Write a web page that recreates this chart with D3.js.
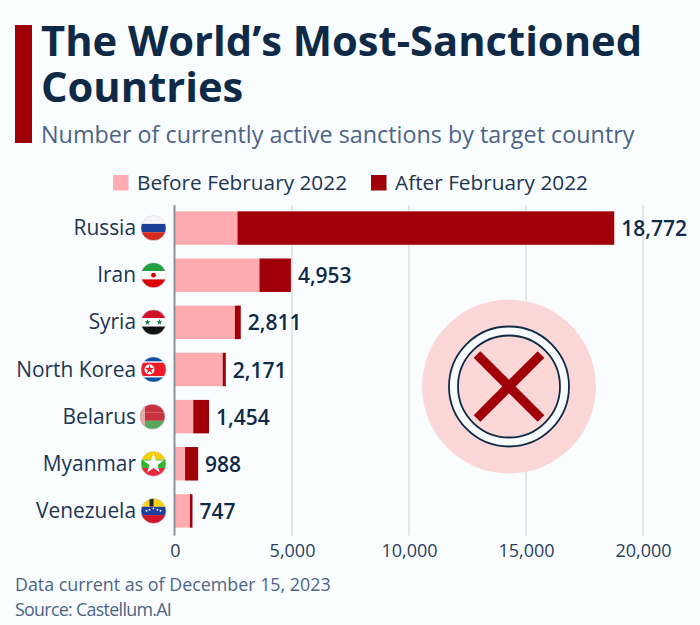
<!DOCTYPE html>
<html>
<head>
<meta charset="utf-8">
<script src="https://cdnjs.cloudflare.com/ajax/libs/d3/7.8.5/d3.min.js"></script>
<style>
    html, body { margin: 0; padding: 0; background: #f9fdff; }
    svg { display: block; font-family: "Open Sans", sans-serif; }
</style>
</head>
<body>
<div id="chart"></div>
<script>
    // values, total is the printed label
    let data = [
        {country: 'Russia', before: 2670, total: 18772, flagX: 153.5, stripes: ['#f6f6f6', '#1c3f94', '#d52b1e']},
        {country: 'Iran', before: 3610, total: 4953, flagX: 153.5, stripes: ['#239f40', '#ffffff', '#da0000']},
        {country: 'Syria', before: 2560, total: 2811, flagX: 153.5, stripes: ['#ce1126', '#ffffff', '#111111']},
        {country: 'North Korea', before: 2040, total: 2171, flagX: 153.5, stripes: ['#024fa2', '#ffffff', '#ed1c27', '#ffffff', '#024fa2'], weights: [2, 0.5, 6, 0.5, 2]},
        {country: 'Belarus', before: 780, total: 1454, flagX: 152.5, stripes: ['#c8313e', '#c8313e', '#5aa65f']},
        {country: 'Myanmar', before: 430, total: 988, flagX: 153.5, stripes: ['#fecb00', '#34b233', '#ea2839']},
        {country: 'Venezuela', before: 640, total: 747, flagX: 153.5, stripes: ['#fcd116', '#1f3f9a', '#cf142b']}
    ];
    data.forEach((d) => d.after = d.total - d.before);

    let width = 700, height = 625;
    let navy = '#0f2a47';
    let labelColor = '#1d3552';
    let colors = {before: '#ffabaf', after: '#a00008'};

    let svg = d3.select('#chart').append('svg')
        .attr('width', width)
        .attr('height', height);

    // header
    svg.append('rect')
        .attr('x', 15).attr('y', 25)
        .attr('width', 17).attr('height', 118)
        .attr('fill', '#a00008');

    svg.selectAll('.title')
        .data(['The World’s Most-Sanctioned', 'Countries'])
        .enter().append('text')
        .attr('class', 'title')
        .attr('x', 41)
        .attr('y', (d, i) => 56 + i * 46)
        .attr('font-size', 41.7)
        .attr('font-weight', 700)
        .attr('fill', navy)
        .text((d) => d);

    svg.append('text')
        .attr('x', 41).attr('y', 143)
        .attr('font-size', 23.35)
        .attr('fill', '#4d6485')
        .text('Number of currently active sanctions by target country');

    // legend
    let legend = svg.selectAll('.legend')
        .data([
            {key: 'before', label: 'Before February 2022', x: 113},
            {key: 'after', label: 'After February 2022', x: 371}
        ])
        .enter().append('g')
        .attr('class', 'legend')
        .attr('transform', (d) => 'translate(' + d.x + ',175)');
    legend.append('rect')
        .attr('width', 15.5).attr('height', 15.5)
        .attr('fill', (d) => colors[d.key]);
    legend.append('text')
        .attr('x', 24).attr('y', 15)
        .attr('font-size', 20.8)
        .attr('fill', labelColor)
        .text((d) => d.label);

    // scales
    let x = d3.scaleLinear().domain([0, 20000]).range([175, 643]);
    let y = d3.scaleBand()
        .domain(data.map((d) => d.country))
        .range([204.5, 534.5])
        .paddingInner(0.29)
        .paddingOuter(0.145);

    // gridlines and axis
    let axis = svg.append('g')
        .attr('transform', 'translate(0,535)')
        .call(d3.axisBottom(x).tickValues([0, 5000, 10000, 15000, 20000]).tickFormat(d3.format(',')).tickSize(0).tickPadding(9));
    axis.select('.domain').remove();
    axis.selectAll('text')
        .attr('font-family', '"Open Sans", sans-serif')
        .attr('font-size', 18)
        .attr('fill', '#2a3f5a');

    svg.selectAll('.grid')
        .data([5000, 10000, 15000, 20000])
        .enter().append('line')
        .attr('class', 'grid')
        .attr('x1', (d) => x(d)).attr('x2', (d) => x(d))
        .attr('y1', 205).attr('y2', 535.5)
        .attr('stroke', '#d2d7dc')
        .attr('stroke-width', 1.2);

    // sanction badge sits over the grid
    let badge = svg.append('g').attr('transform', 'translate(509,386.5)');
    badge.append('circle').attr('r', 87).attr('fill', '#fbd7d8');
    badge.append('circle').attr('r', 60).attr('fill', '#f9fdff').attr('stroke', navy).attr('stroke-width', 1.8);
    badge.append('circle').attr('r', 51).attr('fill', '#fbd7d8').attr('stroke', navy).attr('stroke-width', 1.8);
    [[-32, -32, 32, 32], [-32, 32, 32, -32]].forEach((p) => {
        badge.append('line')
            .attr('x1', p[0]).attr('y1', p[1])
            .attr('x2', p[2]).attr('y2', p[3])
            .attr('stroke', '#a00008')
            .attr('stroke-width', 9.5);
    });

    // bars
    let stack = d3.stack().keys(['before', 'after'])(data);
    svg.selectAll('.series')
        .data(stack)
        .enter().append('g')
        .attr('class', 'series')
        .attr('fill', (s) => colors[s.key])
        .selectAll('rect')
        .data((s) => s)
        .enter().append('rect')
        .attr('x', (d) => x(d[0]))
        .attr('y', (d) => y(d.data.country))
        .attr('width', (d) => x(d[1]) - x(d[0]))
        .attr('height', y.bandwidth());

    svg.append('line')
        .attr('x1', 174.5).attr('x2', 174.5)
        .attr('y1', 205).attr('y2', 535.5)
        .attr('stroke', '#8a949c')
        .attr('stroke-width', 2);

    svg.selectAll('.value')
        .data(data)
        .enter().append('text')
        .attr('class', 'value')
        .attr('x', (d) => x(d.total) + 7)
        .attr('y', (d) => y(d.country) + y.bandwidth() / 2 + 8)
        .attr('font-size', 21)
        .attr('font-weight', 600)
        .attr('fill', navy)
        .text((d) => d3.format(',')(d.total));

    svg.selectAll('.country')
        .data(data)
        .enter().append('text')
        .attr('class', 'country')
        .attr('x', 136)
        .attr('y', (d) => y(d.country) + y.bandwidth() / 2 + 7)
        .attr('text-anchor', 'end')
        .attr('font-size', 20.9)
        .attr('fill', labelColor)
        .text((d) => d.country);

    // round flags, stripes clipped to a circle
    let flagR = 12.5;
    let defs = svg.append('defs');
    defs.append('clipPath').attr('id', 'flag-clip')
        .append('circle').attr('r', flagR);

    let flagGroups = svg.selectAll('.flag')
        .data(data)
        .enter().append('g')
        .attr('class', 'flag')
        .attr('transform', (d) => 'translate(' + d.flagX + ',' + (y(d.country) + y.bandwidth() / 2) + ')');

    let flags = flagGroups.append('g')
        .attr('clip-path', 'url(#flag-clip)');

    flags.each(function(d) {
        let weights = d.weights || d.stripes.map(() => 1);
        let sum = d3.sum(weights);
        let pos = -flagR;
        d.stripes.forEach((c, i) => {
            let h = weights[i] / sum * flagR * 2;
            d3.select(this).append('rect')
                .attr('x', -flagR).attr('y', pos)
                .attr('width', flagR * 2).attr('height', h)
                .attr('fill', c);
            pos += h;
        });
    });

    let flag = (name) => flags.filter((d) => d.country === name);

    flag('Iran').append('circle').attr('r', 2.4).attr('fill', '#da0000');
    flag('Syria').selectAll('.star')
        .data([-6, 6])
        .enter().append('path')
        .attr('d', d3.symbol(d3.symbolStar, 12))
        .attr('transform', (d) => 'translate(' + d + ',0)')
        .attr('fill', '#0a7a3c');
    flag('North Korea').append('circle').attr('cx', -4).attr('r', 5).attr('fill', '#ffffff');
    flag('North Korea').append('path')
        .attr('d', d3.symbol(d3.symbolStar, 26))
        .attr('transform', 'translate(-4,0)')
        .attr('fill', '#ed1c27');
    flag('Belarus').append('rect')
        .attr('x', -flagR).attr('y', -flagR)
        .attr('width', 5).attr('height', flagR * 2)
        .attr('fill', '#e2a9a9');
    flag('Myanmar').append('path')
        .attr('d', d3.symbol(d3.symbolStar, 130))
        .attr('fill', '#ffffff');
    flag('Venezuela').append('rect')
        .attr('x', -4).attr('y', -12.5)
        .attr('width', 4).attr('height', 8)
        .attr('fill', '#222222');
    flag('Venezuela').selectAll('.star')
        .data([-7, -4, 0, 4, 7])
        .enter().append('circle')
        .attr('cx', (d) => d)
        .attr('cy', (d) => Math.abs(d) / 3 - 2.5)
        .attr('r', 0.9)
        .attr('fill', '#ffffff');

    // thin rim so the white stripes keep their edge on the pale page
    flagGroups.append('circle')
        .attr('r', flagR)
        .attr('fill', 'none')
        .attr('stroke', '#c9d0d6')
        .attr('stroke-width', 0.5);

    // footer
    svg.selectAll('.note')
        .data([
            {text: 'Data current as of December 15, 2023', spacing: 0, y: 590.5},
            {text: 'Source: Castellum.AI', spacing: -0.7, y: 616}
        ])
        .enter().append('text')
        .attr('class', 'note')
        .attr('x', 15)
        .attr('y', (d) => d.y)
        .attr('font-size', 17.85)
        .attr('letter-spacing', (d) => d.spacing)
        .attr('fill', '#4d6485')
        .text((d) => d.text);
</script>
</body>
</html>
